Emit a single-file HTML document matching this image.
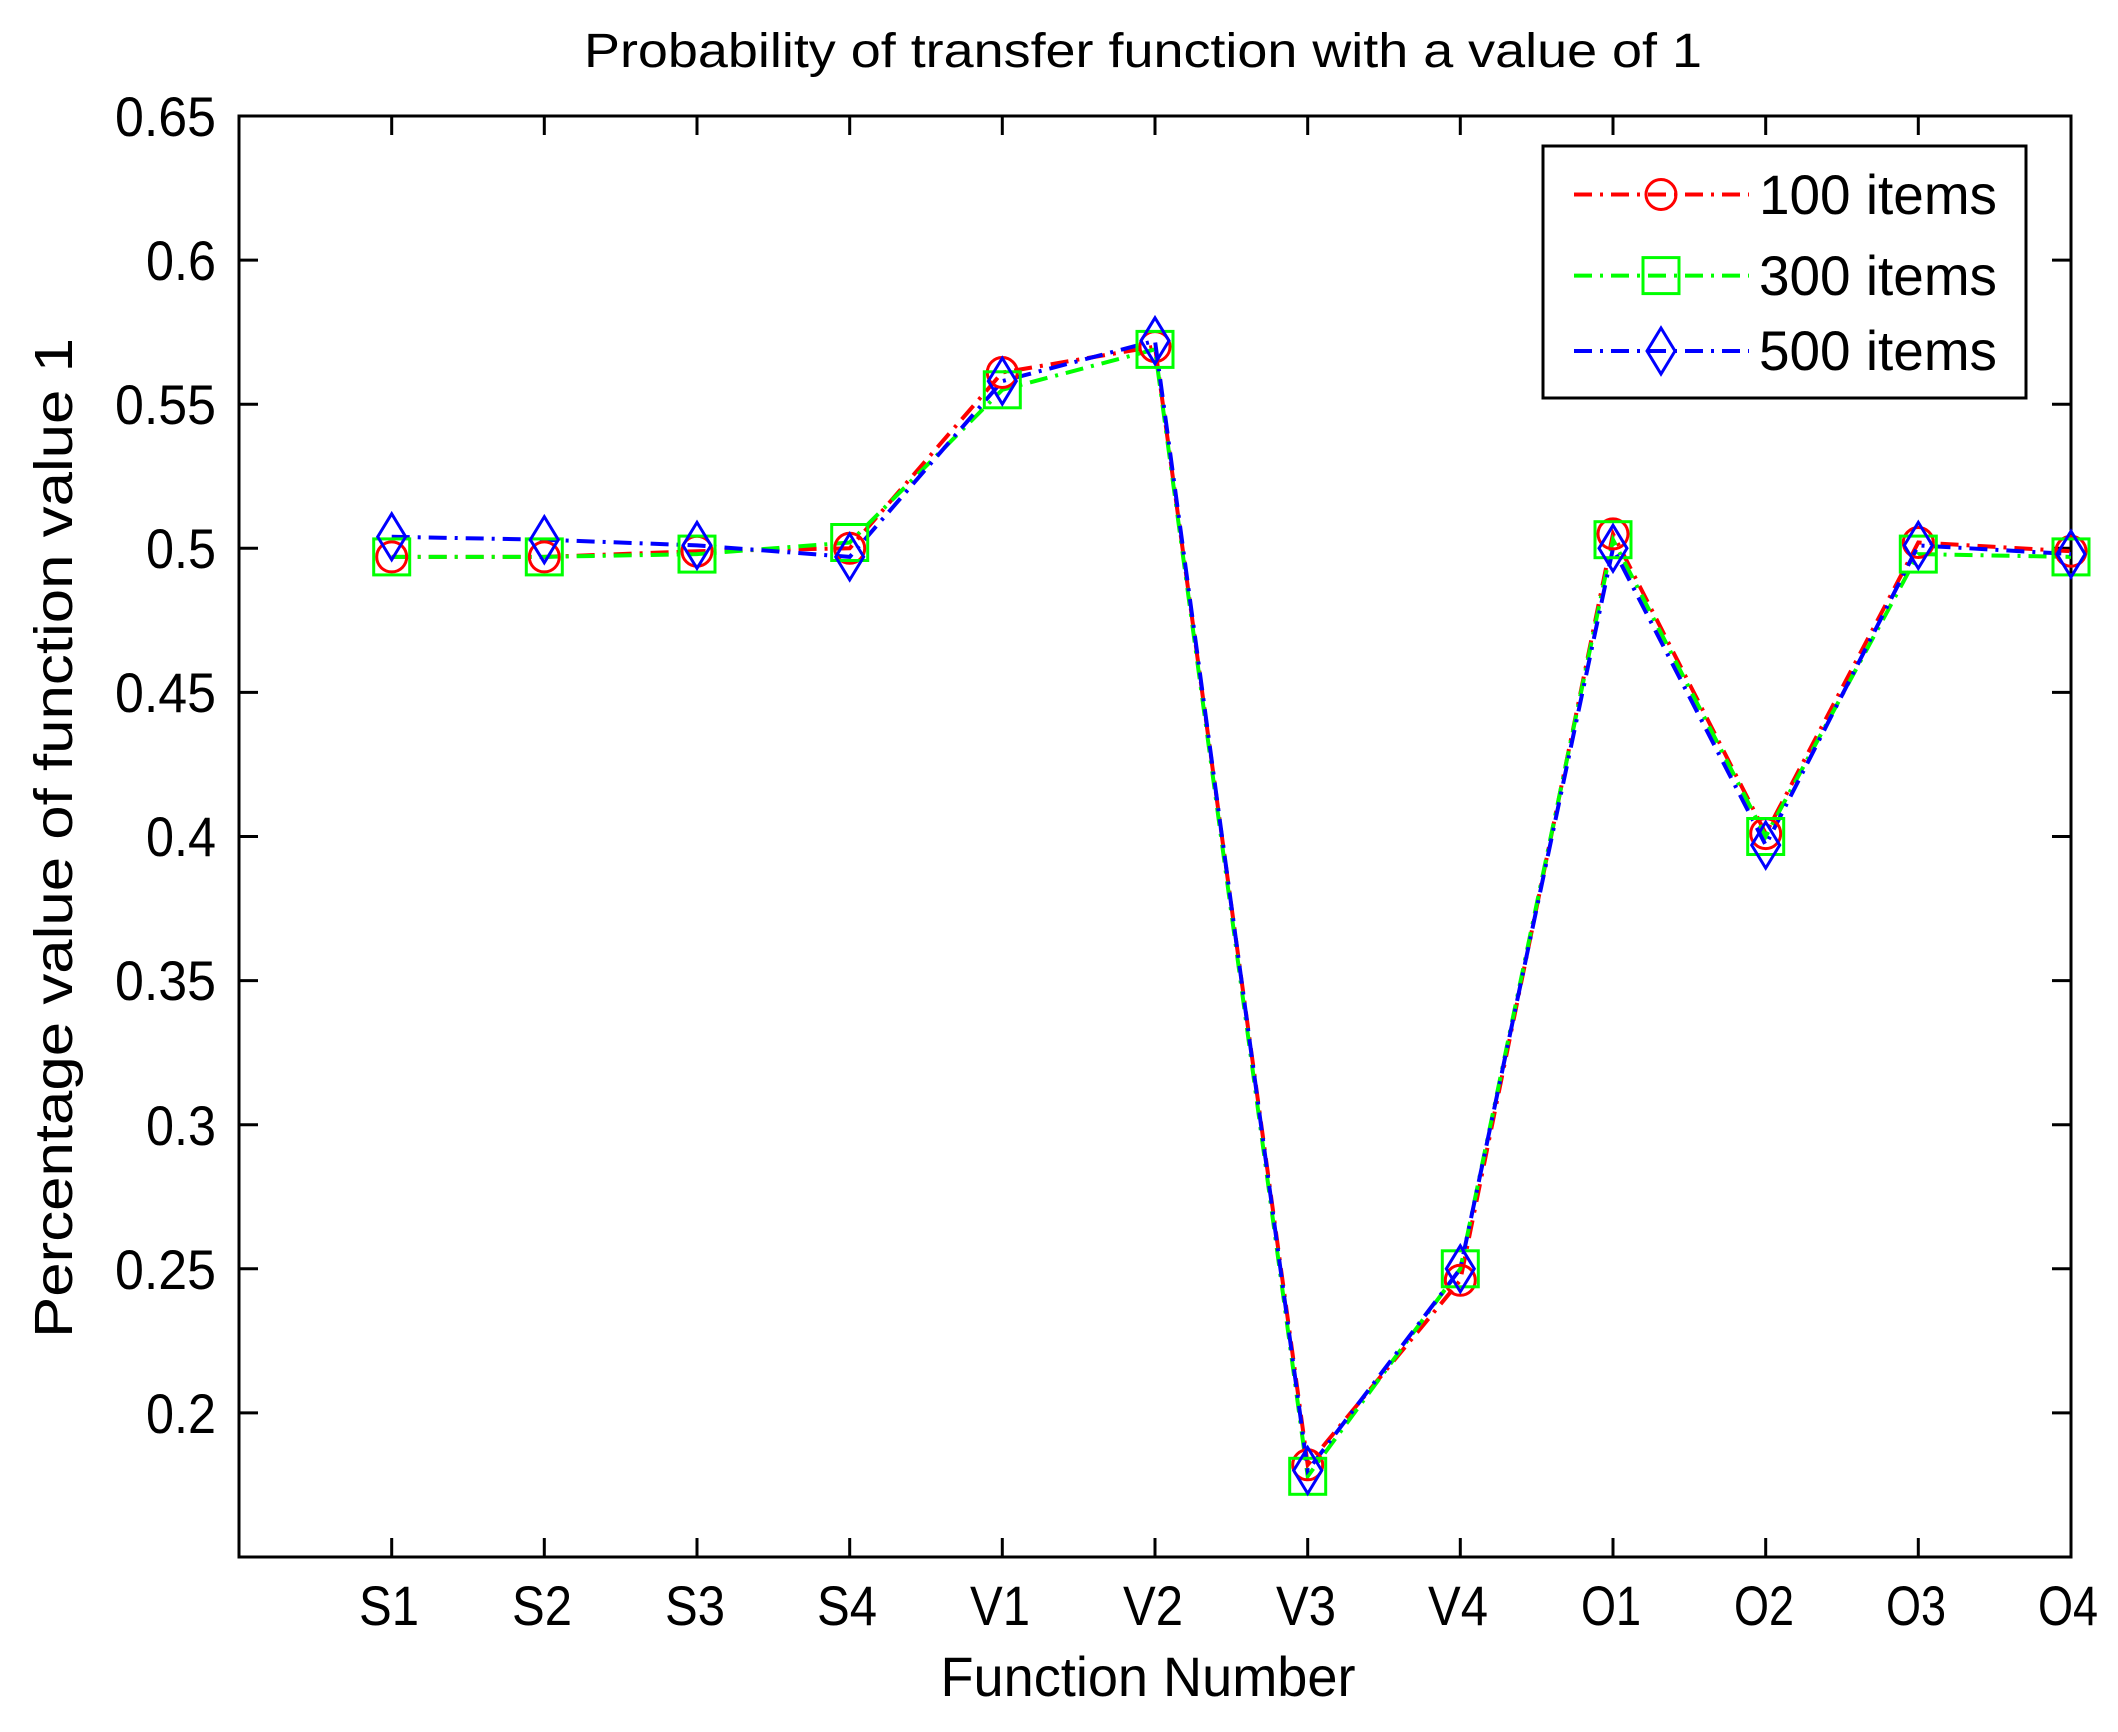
<!DOCTYPE html>
<html><head><meta charset="utf-8"><style>html,body{margin:0;padding:0;background:#fff}svg{display:block}</style></head>
<body>
<svg width="2118" height="1732" viewBox="0 0 2118 1732" xmlns="http://www.w3.org/2000/svg" font-family="Liberation Sans, sans-serif">
<rect width="2118" height="1732" fill="#fff"/>
<text x="1143" y="67" font-size="48" text-anchor="middle" textLength="1118" lengthAdjust="spacingAndGlyphs">Probability of transfer function with a value of 1</text>
<rect x="239" y="116" width="1832" height="1441" fill="none" stroke="#000" stroke-width="3"/>
<g stroke="#000" stroke-width="3">
<path d="M239 260.1h19M239 404.2h19M239 548.3h19M239 692.4h19M239 836.5h19M239 980.6h19M239 1124.7h19M239 1268.8h19M239 1412.9h19"/>
<path d="M2071 260.1h-19M2071 404.2h-19M2071 548.3h-19M2071 692.4h-19M2071 836.5h-19M2071 980.6h-19M2071 1124.7h-19M2071 1268.8h-19M2071 1412.9h-19"/>
<path d="M391.7 1557v-19M544.3 1557v-19M697 1557v-19M849.7 1557v-19M1002.3 1557v-19M1155 1557v-19M1307.7 1557v-19M1460.3 1557v-19M1613 1557v-19M1765.7 1557v-19M1918.3 1557v-19"/>
<path d="M391.7 116v19M544.3 116v19M697 116v19M849.7 116v19M1002.3 116v19M1155 116v19M1307.7 116v19M1460.3 116v19M1613 116v19M1765.7 116v19M1918.3 116v19"/>
</g>
<g font-size="56" text-anchor="end">
<text x="216" y="136" textLength="101" lengthAdjust="spacingAndGlyphs">0.65</text><text x="216" y="280" textLength="70" lengthAdjust="spacingAndGlyphs">0.6</text><text x="216" y="424" textLength="101" lengthAdjust="spacingAndGlyphs">0.55</text><text x="216" y="568" textLength="70" lengthAdjust="spacingAndGlyphs">0.5</text><text x="216" y="712" textLength="101" lengthAdjust="spacingAndGlyphs">0.45</text><text x="216" y="856" textLength="70" lengthAdjust="spacingAndGlyphs">0.4</text><text x="216" y="1000" textLength="101" lengthAdjust="spacingAndGlyphs">0.35</text><text x="216" y="1145" textLength="70" lengthAdjust="spacingAndGlyphs">0.3</text><text x="216" y="1289" textLength="101" lengthAdjust="spacingAndGlyphs">0.25</text><text x="216" y="1433" textLength="70" lengthAdjust="spacingAndGlyphs">0.2</text>
</g>
<g font-size="56" text-anchor="middle">
<text x="389" y="1625" textLength="60" lengthAdjust="spacingAndGlyphs">S1</text><text x="542" y="1625" textLength="60" lengthAdjust="spacingAndGlyphs">S2</text><text x="695" y="1625" textLength="60" lengthAdjust="spacingAndGlyphs">S3</text><text x="847" y="1625" textLength="60" lengthAdjust="spacingAndGlyphs">S4</text><text x="1000" y="1625" textLength="60" lengthAdjust="spacingAndGlyphs">V1</text><text x="1153" y="1625" textLength="60" lengthAdjust="spacingAndGlyphs">V2</text><text x="1306" y="1625" textLength="60" lengthAdjust="spacingAndGlyphs">V3</text><text x="1458" y="1625" textLength="60" lengthAdjust="spacingAndGlyphs">V4</text><text x="1611" y="1625" textLength="60" lengthAdjust="spacingAndGlyphs">O1</text><text x="1764" y="1625" textLength="60" lengthAdjust="spacingAndGlyphs">O2</text><text x="1916" y="1625" textLength="60" lengthAdjust="spacingAndGlyphs">O3</text><text x="2068" y="1625" textLength="60" lengthAdjust="spacingAndGlyphs">O4</text>
</g>
<text x="1148" y="1696" font-size="56" text-anchor="middle" textLength="415" lengthAdjust="spacingAndGlyphs">Function Number</text>
<text transform="translate(72,838) rotate(-90)" font-size="54" text-anchor="middle" textLength="1000" lengthAdjust="spacingAndGlyphs">Percentage value of function value 1</text>
<g fill="none" stroke-width="4" stroke-dasharray="18 8 3 8">
<polyline stroke="#f00" points="391.7,556.9 544.3,556.9 697,551.2 849.7,548.3 1002.3,372.5 1155,346.6 1307.7,1464.8 1460.3,1280.3 1613,533.9 1765.7,833.6 1918.3,542.5 2071,551.2"/>
<polyline stroke="#0f0" points="391.7,556.9 544.3,556.9 697,554.1 849.7,542.5 1002.3,389.8 1155,349.4 1307.7,1476.3 1460.3,1268.8 1613,539.7 1765.7,836.5 1918.3,554.1 2071,556.9"/>
<polyline stroke="#00f" points="391.7,536.8 544.3,539.7 697,545.4 849.7,556.9 1002.3,381.1 1155,340.8 1307.7,1470.5 1460.3,1268.8 1613,548.3 1765.7,845.1 1918.3,545.4 2071,554.1"/>
</g>
<g fill="none" stroke="#f00" stroke-width="3">
<circle cx="391.7" cy="556.9" r="15"/><circle cx="544.3" cy="556.9" r="15"/><circle cx="697" cy="551.2" r="15"/><circle cx="849.7" cy="548.3" r="15"/><circle cx="1002.3" cy="372.5" r="15"/><circle cx="1155" cy="346.6" r="15"/><circle cx="1307.7" cy="1464.8" r="15"/><circle cx="1460.3" cy="1280.3" r="15"/><circle cx="1613" cy="533.9" r="15"/><circle cx="1765.7" cy="833.6" r="15"/><circle cx="1918.3" cy="542.5" r="15"/><circle cx="2071" cy="551.2" r="15"/>
</g>
<g fill="none" stroke="#0f0" stroke-width="3">
<rect x="373.7" y="538.9" width="36" height="36"/><rect x="526.3" y="538.9" width="36" height="36"/><rect x="679" y="536.1" width="36" height="36"/><rect x="831.7" y="524.5" width="36" height="36"/><rect x="984.3" y="371.8" width="36" height="36"/><rect x="1137" y="331.4" width="36" height="36"/><rect x="1289.7" y="1458.3" width="36" height="36"/><rect x="1442.3" y="1250.8" width="36" height="36"/><rect x="1595" y="521.7" width="36" height="36"/><rect x="1747.7" y="818.5" width="36" height="36"/><rect x="1900.3" y="536.1" width="36" height="36"/><rect x="2053" y="538.9" width="36" height="36"/>
</g>
<g fill="none" stroke="#00f" stroke-width="3">
<path d="M391.7 513.8l14 23-14 23-14-23z"/><path d="M544.3 516.7l14 23-14 23-14-23z"/><path d="M697 522.4l14 23-14 23-14-23z"/><path d="M849.7 533.9l14 23-14 23-14-23z"/><path d="M1002.3 358.1l14 23-14 23-14-23z"/><path d="M1155 317.8l14 23-14 23-14-23z"/><path d="M1307.7 1447.5l14 23-14 23-14-23z"/><path d="M1460.3 1245.8l14 23-14 23-14-23z"/><path d="M1613 525.3l14 23-14 23-14-23z"/><path d="M1765.7 822.1l14 23-14 23-14-23z"/><path d="M1918.3 522.4l14 23-14 23-14-23z"/><path d="M2071 531.1l14 23-14 23-14-23z"/>
</g>
<rect x="1543" y="146" width="483" height="252" fill="#fff" stroke="#000" stroke-width="3"/>
<g fill="none" stroke-width="4" stroke-dasharray="18 8 3 8">
<path stroke="#f00" d="M1574 194.5h175"/><path stroke="#0f0" d="M1574 275.6h175"/><path stroke="#00f" d="M1574 351h175"/>
</g>
<circle cx="1661" cy="194.5" r="15" fill="none" stroke="#f00" stroke-width="3"/>
<rect x="1643" y="257.6" width="36" height="36" fill="none" stroke="#0f0" stroke-width="3"/>
<path d="M1661 328l14 23-14 23-14-23z" fill="none" stroke="#00f" stroke-width="3"/>
<g font-size="56">
<text x="1759" y="214" textLength="238" lengthAdjust="spacingAndGlyphs">100 items</text>
<text x="1759" y="295" textLength="238" lengthAdjust="spacingAndGlyphs">300 items</text>
<text x="1759" y="370" textLength="238" lengthAdjust="spacingAndGlyphs">500 items</text>
</g>
</svg>
</body></html>
